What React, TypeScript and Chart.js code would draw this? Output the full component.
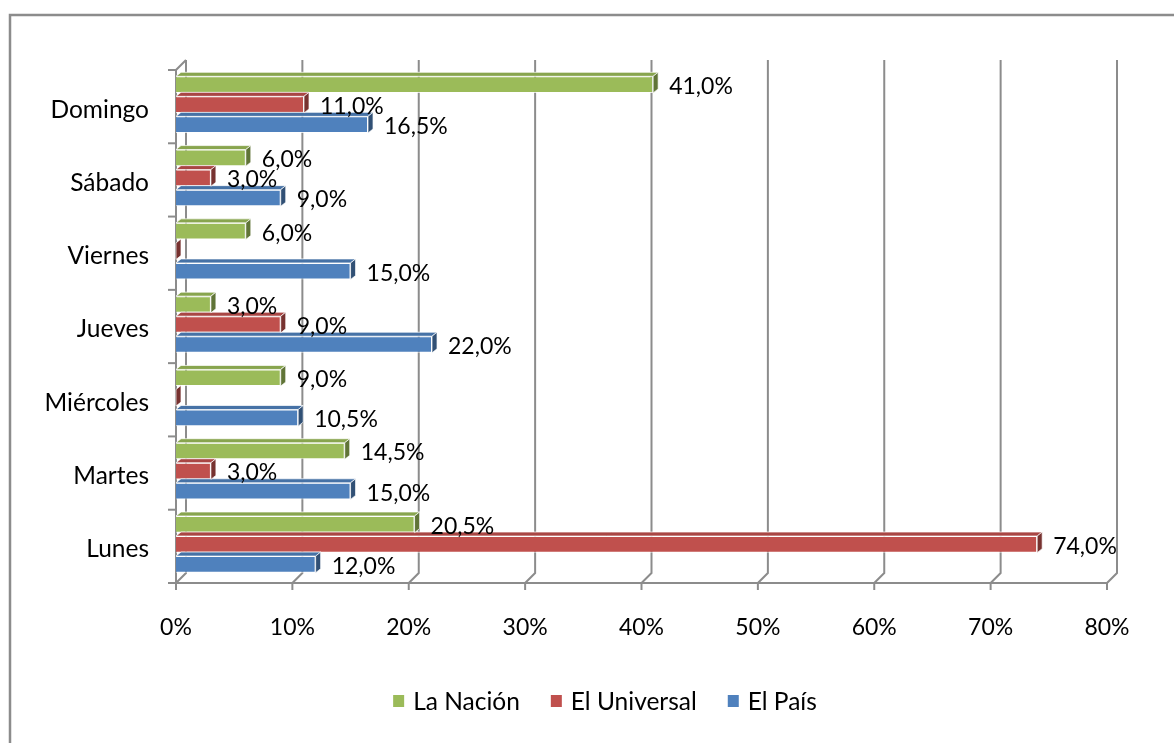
import React, { useEffect, useRef } from 'react';
import { Chart, registerables } from 'chart.js';

Chart.register(...registerables);

// ---- data ----
const categories = ['Domingo', 'Sábado', 'Viernes', 'Jueves', 'Miércoles', 'Martes', 'Lunes'];
const seriesNames = ['La Nación', 'El Universal', 'El País'];
const laNacion = [41, 6, 6, 3, 9, 14.5, 20.5];
const elUniversal = [11, 3, 0, 9, 0, 3, 74];
const elPais = [16.5, 9, 15, 22, 10.5, 15, 12];
const seriesColors = ['#9BBB59', '#C0504D', '#4F81BD'];
const xMin = 0;
const xMax = 80;
const xStep = 10;

// ---- style ----
const FONT = "Lato, 'Open Sans', sans-serif";
const GRID = '#8c8c8c';
const WALL_D = 10;
const BAR_DX = 5;
const BAR_DY = 4;
const SHIFT = 2;
const W = 1174;
const H = 743;

function shade(hex: string, f: number) {
  const n = parseInt(hex.slice(1), 16);
  const r = Math.round(((n >> 16) & 255) * f);
  const g = Math.round(((n >> 8) & 255) * f);
  const b = Math.round((n & 255) * f);
  return `rgb(${r},${g},${b})`;
}

function fmt(v: number) {
  return v.toFixed(1).replace('.', ',') + '%';
}

const excel3d = {
  id: 'excel3d',
  beforeDraw(chart: any) {
    const ctx = chart.ctx;
    ctx.save();
    ctx.fillStyle = '#ffffff';
    ctx.fillRect(0, 0, chart.width, chart.height);
    ctx.strokeStyle = GRID;
    ctx.lineWidth = 2.5;
    ctx.beginPath();
    ctx.moveTo(10, chart.height + 5);
    ctx.lineTo(10, 15);
    ctx.lineTo(chart.width + 5, 15);
    ctx.stroke();
    ctx.restore();
  },
  beforeDatasetsDraw(chart: any) {
    const ctx = chart.ctx;
    const xs = chart.scales.x;
    const ca = chart.chartArea;
    const floorY = ca.bottom + SHIFT;
    const topY = ca.top + SHIFT;
    ctx.save();
    ctx.strokeStyle = GRID;
    ctx.lineWidth = 2;
    for (let v = xMin; v <= xMax; v += xStep) {
      const xf = xs.getPixelForValue(v);
      ctx.beginPath();
      ctx.moveTo(xf, floorY);
      ctx.lineTo(xf + WALL_D, floorY - WALL_D);
      ctx.lineTo(xf + WALL_D, topY - WALL_D);
      ctx.stroke();
      ctx.beginPath();
      ctx.moveTo(xf, floorY);
      ctx.lineTo(xf, floorY + 7);
      ctx.stroke();
    }
    ctx.beginPath();
    ctx.moveTo(xs.getPixelForValue(xMin), floorY);
    ctx.lineTo(xs.getPixelForValue(xMax), floorY);
    ctx.stroke();
    const x0 = xs.getPixelForValue(xMin);
    ctx.beginPath();
    ctx.moveTo(x0, floorY);
    ctx.lineTo(x0, topY);
    ctx.lineTo(x0 + WALL_D, topY - WALL_D);
    ctx.stroke();
    const n = categories.length;
    const band = (ca.bottom - ca.top) / n;
    for (let i = 0; i <= n; i++) {
      const y = ca.top + i * band + SHIFT;
      ctx.beginPath();
      ctx.moveTo(x0 - 8, y);
      ctx.lineTo(x0, y);
      ctx.stroke();
    }
    ctx.restore();
  },
  afterDatasetsDraw(chart: any) {
    const ctx = chart.ctx;
    ctx.save();
    const dsCount = chart.data.datasets.length;
    for (let d = dsCount - 1; d >= 0; d--) {
      const meta = chart.getDatasetMeta(d);
      const color = seriesColors[d];
      meta.data.forEach((bar: any) => {
        const { x, y, base, height } = bar.getProps(['x', 'y', 'base', 'height'], true);
        const xl = base;
        const xr = x;
        const top = y - height / 2;
        const bottom = y + height / 2;
        if (xr > xl) {
          ctx.beginPath();
          ctx.moveTo(xl, top);
          ctx.lineTo(xr, top);
          ctx.lineTo(xr + BAR_DX, top - BAR_DY);
          ctx.lineTo(xl + BAR_DX, top - BAR_DY);
          ctx.closePath();
          ctx.fillStyle = shade(color, 0.88);
          ctx.fill();
          ctx.strokeStyle = 'rgba(255,255,255,0.7)';
          ctx.lineWidth = 1;
          ctx.stroke();
        }
        ctx.beginPath();
        ctx.moveTo(xr, top);
        ctx.lineTo(xr + BAR_DX, top - BAR_DY);
        ctx.lineTo(xr + BAR_DX, bottom - BAR_DY);
        ctx.lineTo(xr, bottom);
        ctx.closePath();
        ctx.fillStyle = shade(color, 0.62);
        ctx.fill();
        ctx.strokeStyle = 'rgba(255,255,255,0.7)';
        ctx.lineWidth = 1;
        ctx.stroke();
      });
    }
    ctx.font = `23px ${FONT}`;
    ctx.fillStyle = '#000';
    ctx.textAlign = 'left';
    ctx.textBaseline = 'middle';
    for (let d = 0; d < dsCount; d++) {
      const meta = chart.getDatasetMeta(d);
      const vals = chart.data.datasets[d].data as number[];
      meta.data.forEach((bar: any, i: number) => {
        const v = vals[i];
        if (!v) return;
        const { x, y } = bar.getProps(['x', 'y'], true);
        ctx.fillText(fmt(v), x + 16, y + 2);
      });
    }
    ctx.restore();
  },
  afterDraw(chart: any) {
    const ctx = chart.ctx;
    ctx.save();
    ctx.font = `24.5px ${FONT}`;
    ctx.textBaseline = 'middle';
    ctx.textAlign = 'left';
    const box = 11;
    const gapBox = 9;
    const gapItem = 31;
    const items = chart.data.datasets.map((ds: any) => ({
      label: ds.label,
      color: ds.backgroundColor,
      w: ctx.measureText(ds.label).width,
    }));
    const total = items.reduce((s: number, it: any) => s + box + gapBox + it.w, 0) + gapItem * (items.length - 1);
    let x = 605 - total / 2;
    const cy = 701;
    items.forEach((it: any) => {
      ctx.fillStyle = it.color;
      ctx.fillRect(x, cy - 6, box, 12);
      ctx.fillStyle = '#000';
      ctx.fillText(it.label, x + box + gapBox, cy + 1);
      x += box + gapBox + it.w + gapItem;
    });
    ctx.restore();
  },
};

export default function App() {
  const ref = useRef<HTMLCanvasElement | null>(null);
  useEffect(() => {
    if (!ref.current) return;
    const chart = new Chart(ref.current, {
      type: 'bar',
      data: {
        labels: categories,
        datasets: [laNacion, elUniversal, elPais].map((data, i) => ({
          label: seriesNames[i],
          data,
          backgroundColor: seriesColors[i],
          borderColor: 'rgba(255,255,255,0.75)',
          borderWidth: 1,
          barPercentage: 0.83,
          categoryPercentage: 0.82,
        })),
      },
      options: {
        indexAxis: 'y',
        animation: false,
        responsive: false,
        devicePixelRatio: 1,
        layout: { padding: { left: 0, top: 68, right: 67, bottom: H - 581 - 80 } },
        plugins: { legend: { display: false }, tooltip: { enabled: false } },
        scales: {
          x: {
            min: xMin,
            max: xMax,
            ticks: {
              stepSize: xStep,
              callback: (v: any) => `${v}%`,
              font: { family: FONT, size: 23 },
              color: '#000',
              padding: 33,
            },
            grid: { display: false, drawTicks: false },
            border: { display: false },
            afterFit: (s: any) => { s.height = 80; },
          },
          y: {
            ticks: {
              font: { family: FONT, size: 24.5 },
              color: '#000',
              padding: 27,
              labelOffset: 5,
            },
            grid: { display: false, drawTicks: false },
            border: { display: false },
            afterFit: (s: any) => { s.width = 176; },
          },
        },
      },
      plugins: [excel3d],
    });
    return () => chart.destroy();
  }, []);
  return (
    <div style={{ position: 'absolute', left: 0, top: 0, width: W, height: H }}>
      <canvas ref={ref} width={W} height={H} style={{ display: 'block' }} />
    </div>
  );
}
